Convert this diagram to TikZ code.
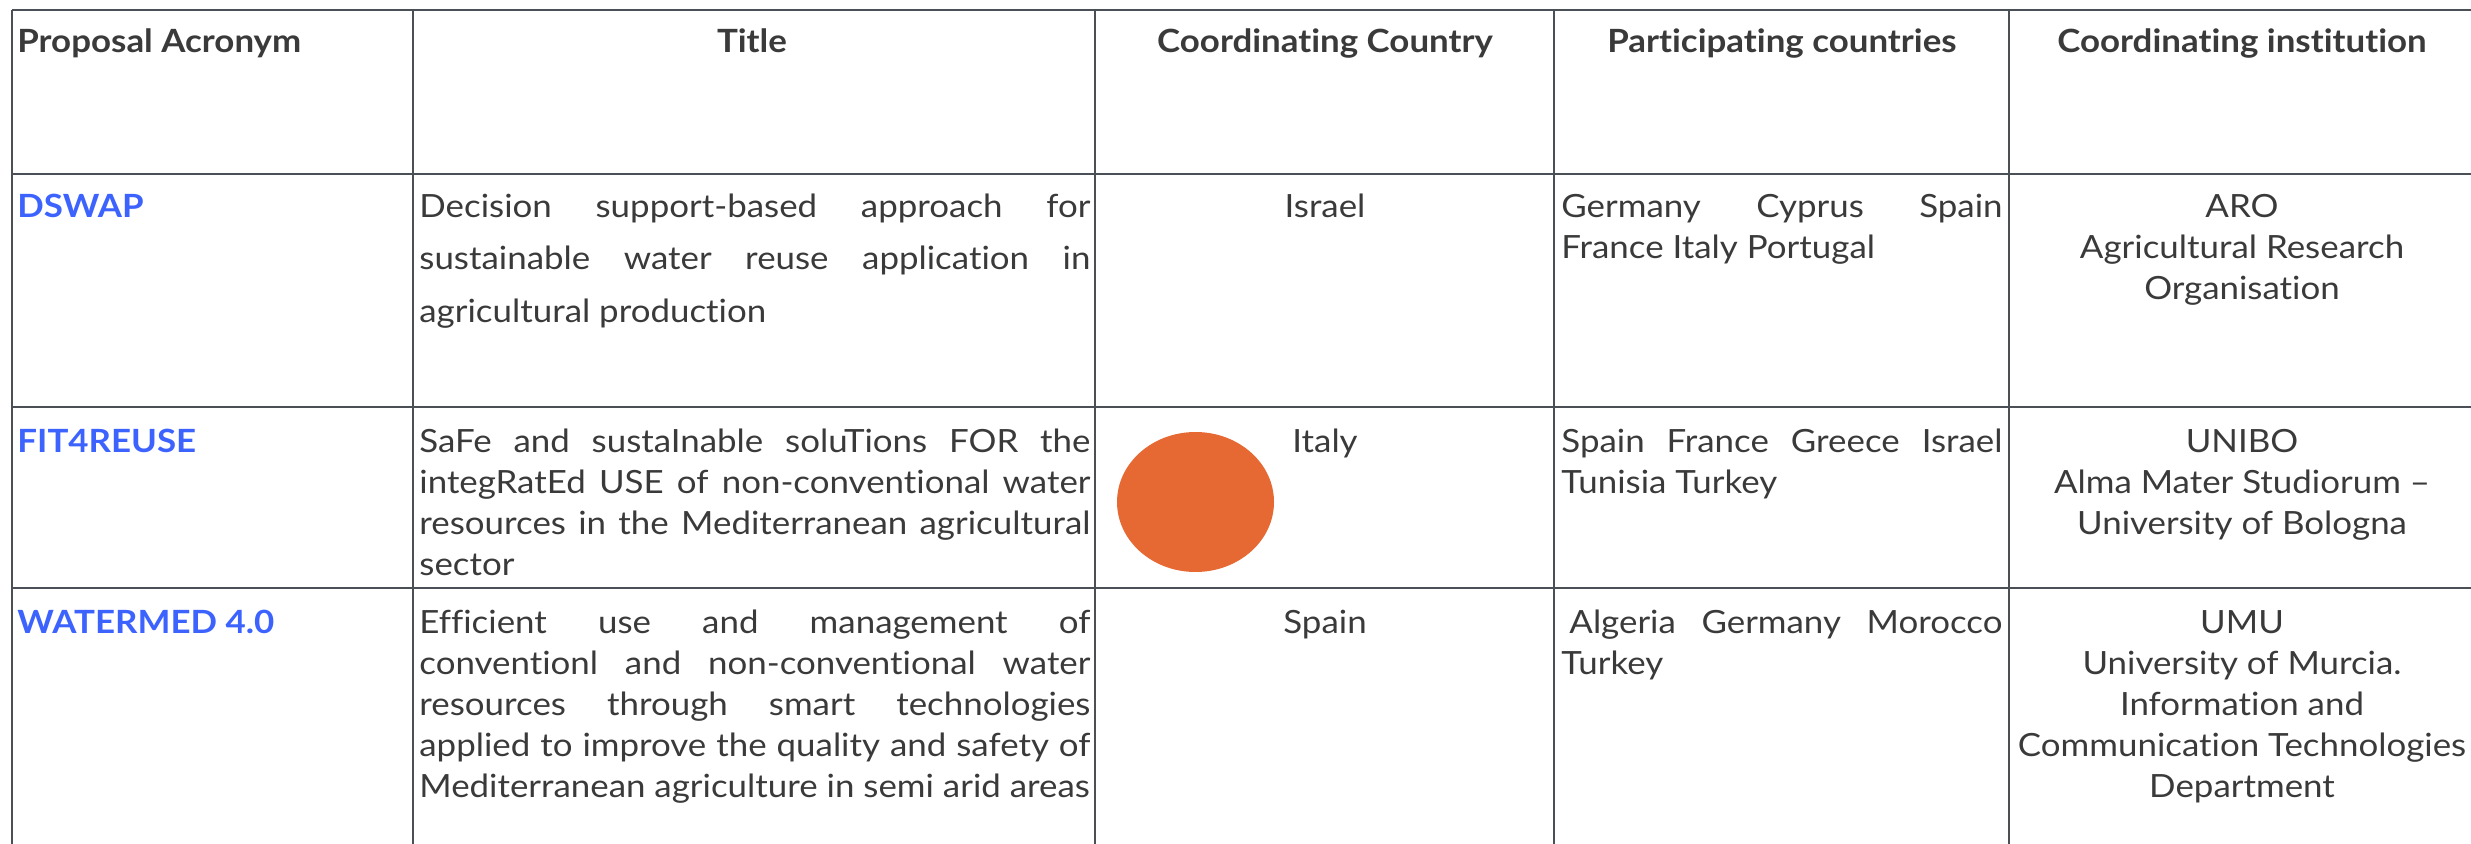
\documentclass[tikz,border=0pt]{standalone}
\usepackage{fontspec}
\setmainfont{Lato}[FakeStretch=1.09,Ligatures={NoCommon}]
\definecolor{txt}{RGB}{58,58,58}
\definecolor{acr}{RGB}{61,99,255}
\definecolor{grid}{RGB}{74,80,86}
\definecolor{dot}{RGB}{230,105,52}
% justified lines of fixed width
\newcommand{\tl}[1]{\makebox[335.5pt][s]{#1}}
\newcommand{\pl}[1]{\makebox[220.5pt][s]{#1}}
\tikzset{
  hd/.style={font=\bfseries\fontsize{16}{20.5}\selectfont,text=txt,inner sep=0pt,anchor=base},
  acro/.style={font=\bfseries\fontsize{16}{20.5}\selectfont,text=acr,inner sep=0pt,anchor=base west},
  cell/.style={font=\fontsize{16}{20.5}\selectfont,text=txt,inner sep=0pt,anchor=base},
  ltext/.style={cell,anchor=base west,align=left},
  hline/.style={draw=grid,line width=1.35pt},
  vline/.style={draw=grid,line width=1.15pt}
}
\begin{document}
\begin{tikzpicture}[x=0.5pt,y=-0.5pt]
\useasboundingbox (0,0) rectangle (2471,844);
% grid
\foreach \y in {10,174,407,588} \draw[hline](12,\y)--(2471,\y);
\foreach \x in {12,413,1095,1554,2009} \draw[vline](\x,10)--(\x,844);
% header
\node (hacr) at (17,53) [hd,anchor=base west] {Proposal Acronym};
\node (htit) at (752,53) [hd] {Title};
\node (hcty) at (1325,53) [hd] {Coordinating Country};
\node (hpar) at (1782,53) [hd] {Participating countries};
\node (hins) at (2242,53) [hd] {Coordinating institution};
% DSWAP (multi-line cells sit on their last baseline)
\node (dswap) at (17,218) [acro] {DSWAP};
\node (dswapT) at (419,322) [ltext,font=\fontsize{16}{26}\selectfont]
  {\tl{Decision support-based approach for}\\
   \tl{sustainable water reuse application in}\\
   agricultural production};
\node (dswapC) at (1325,218) [cell] {Israel};
\node (dswapP) at (1561,259) [ltext] {\pl{Germany Cyprus Spain}\\ France Italy Portugal};
\node (dswapI) at (2242,300) [cell,align=center] {ARO\\ Agricultural Research\\ Organisation};
% FIT4REUSE
\node (fit) at (17,452) [acro] {FIT4REUSE};
\node (fitT) at (419,575) [ltext]
  {\tl{SaFe and sustaInable soluTions FOR the}\\
   \tl{integRatEd USE of non-conventional water}\\
   \tl{resources in the Mediterranean agricultural}\\
   sector};
\fill[dot](1195.5,502) ellipse [x radius=78.5,y radius=70];
\node (fitC) at (1325,452) [cell] {Italy};
\node (fitP) at (1561,493) [ltext] {\pl{Spain France Greece Israel}\\ Tunisia Turkey};
\node (fitI) at (2242,534) [cell,align=center] {UNIBO\\ Alma Mater Studiorum \textendash\\ University of Bologna};
% WATERMED 4.0
\node (wat) at (17,633) [acro] {WATERMED 4.0};
\node (watT) at (419,797) [ltext]
  {\tl{Efficient use and management of}\\
   \tl{conventionl and non-conventional water}\\
   \tl{resources through smart technologies}\\
   \tl{applied to improve the quality and safety of}\\
   Mediterranean agriculture in semi arid areas};
\node (watC) at (1325,633) [cell] {Spain};
\node (watP) at (1561,674) [ltext] {\pl{\hspace{4pt}Algeria Germany Morocco}\\ Turkey};
\node (watI) at (2242,797) [cell,align=center]
  {UMU\\ University of Murcia.\\ Information and\\ Communication Technologies\\ Department};
\end{tikzpicture}
\end{document}
